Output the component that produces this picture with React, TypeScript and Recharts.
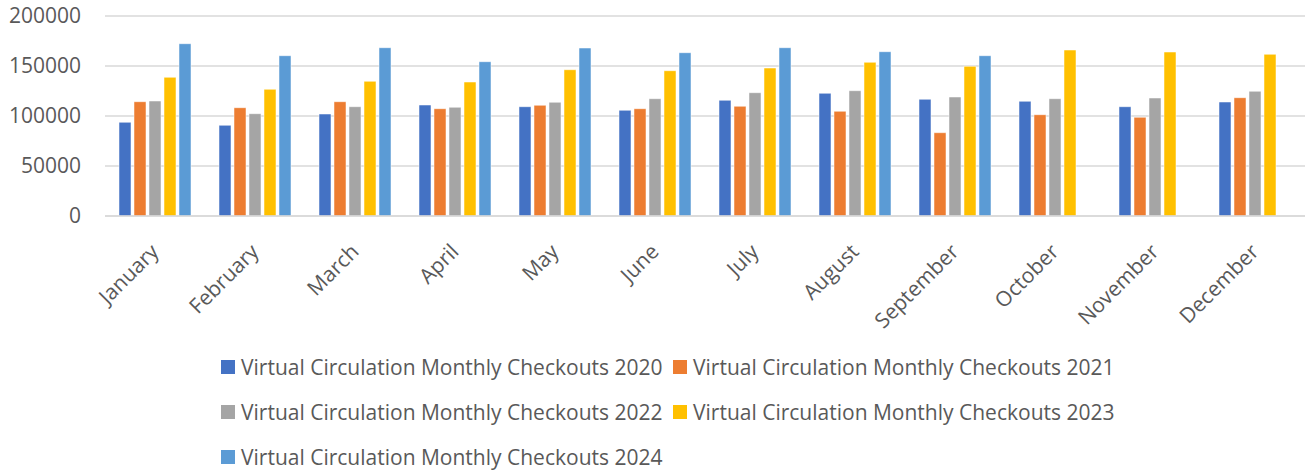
import { BarChart, Bar, XAxis, YAxis, CartesianGrid } from "recharts";

const months = [
  "January", "February", "March", "April", "May", "June",
  "July", "August", "September", "October", "November", "December",
];

const checkouts2020 = [93700, 90700, 102000, 111000, 109300, 105700, 115700, 122700, 116700, 114700, 109300, 114000];
const checkouts2021 = [114300, 108300, 114300, 107300, 110700, 107300, 109700, 104700, 83300, 101300, 98700, 118300];
const checkouts2022 = [115000, 102300, 109300, 108700, 113700, 117300, 123300, 125300, 119000, 117300, 118000, 124700];
const checkouts2023 = [138700, 126700, 134700, 134000, 146300, 145300, 148000, 153700, 149700, 166000, 164000, 161700];
const checkouts2024 = [172300, 160300, 168300, 154300, 168000, 163300, 168300, 164300, 160300, null, null, null];

const yTicks = [0, 50000, 100000, 150000, 200000];

const series = [
  { key: "y2020", name: "Virtual Circulation Monthly Checkouts 2020", values: checkouts2020, color: "#4472C4" },
  { key: "y2021", name: "Virtual Circulation Monthly Checkouts 2021", values: checkouts2021, color: "#ED7D31" },
  { key: "y2022", name: "Virtual Circulation Monthly Checkouts 2022", values: checkouts2022, color: "#A5A5A5" },
  { key: "y2023", name: "Virtual Circulation Monthly Checkouts 2023", values: checkouts2023, color: "#FFC000" },
  { key: "y2024", name: "Virtual Circulation Monthly Checkouts 2024", values: checkouts2024, color: "#5B9BD5" },
];

const data = months.map((m, i) => {
  const row: any = { month: m };
  series.forEach((s) => {
    row[s.key] = s.values[i];
  });
  return row;
});

const FONT = "'Open Sans', sans-serif";
const TEXT = "#595959";

const MonthTick = (props: any) => {
  const { x, y, payload } = props;
  const ax = x + 5;
  const ay = y + 29;
  return (
    <text
      x={ax}
      y={ay}
      textAnchor="end"
      fill={TEXT}
      fontSize={21}
      fontFamily={FONT}
      transform={`rotate(-45, ${ax}, ${ay})`}
    >
      {payload.value}
    </text>
  );
};

const ChartLegend = () => {
  return (
    <div
      style={{
        position: "absolute",
        left: 221,
        top: 352,
        width: 910,
        display: "flex",
        flexWrap: "wrap",
        fontFamily: FONT,
        fontSize: 21,
        color: TEXT,
      }}
    >
      {series.map((s) => (
        <div
          key={s.key}
          style={{ width: 452, height: 45, display: "flex", alignItems: "flex-start" }}
        >
          <div
            style={{
              width: 14,
              height: 14,
              background: s.color,
              marginTop: 8,
              marginRight: 6,
              flexShrink: 0,
            }}
          ></div>
          <span style={{ lineHeight: "30px", whiteSpace: "nowrap" }}>{s.name}</span>
        </div>
      ))}
    </div>
  );
};

const App = () => {
  return (
    <div style={{ position: "absolute", left: 0, top: 0, width: 1309, height: 474, background: "#fff" }}>
      <BarChart
        width={1309}
        height={340}
        data={data}
        barSize={12}
        barGap={3}
        margin={{ top: 16, right: 4, left: 0, bottom: 0 }}
      >
        <CartesianGrid vertical={false} stroke="#d9d9d9" strokeWidth={1.3} />
        <XAxis
          dataKey="month"
          height={124}
          interval={0}
          tickLine={false}
          axisLine={{ stroke: "#d9d9d9", strokeWidth: 1.5 }}
          tick={<MonthTick />}
        />
        <YAxis
          width={105}
          domain={[0, 200000]}
          ticks={yTicks}
          axisLine={false}
          tickLine={false}
          tickSize={0}
          tickMargin={24}
          tick={{ fill: TEXT, fontSize: 21, fontFamily: FONT }}
        />
        {series.map((s) => (
          <Bar
            key={s.key}
            dataKey={s.key}
            name={s.name}
            fill={s.color}
            stroke="#ffffff"
            strokeOpacity={0.5}
            isAnimationActive={false}
          />
        ))}
      </BarChart>
      <ChartLegend />
    </div>
  );
};

export default App;
